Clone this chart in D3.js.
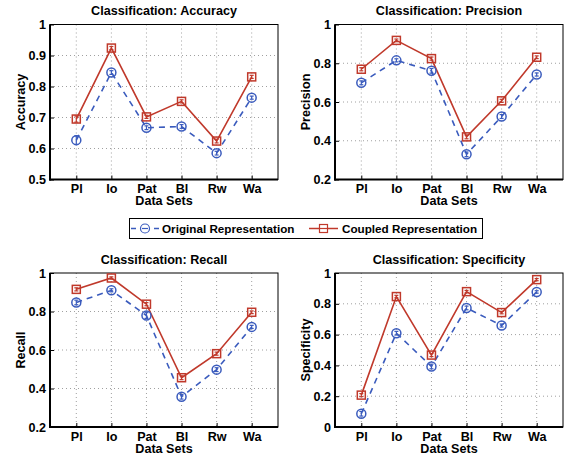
<!DOCTYPE html>
<html>
<head>
<meta charset="utf-8">
<script src="https://cdn.jsdelivr.net/npm/d3@7"></script>
<style>
html,body{margin:0;padding:0;background:#fff;}
svg text{font-family:"Liberation Sans",Arial,Helvetica,sans-serif;font-weight:bold;fill:#000;}
</style>
</head>
<body>
<svg id="chart" width="567" height="455"></svg>
<script>
// ---- data ----
const categories = ["Pl", "Io", "Pat", "Bl", "Rw", "Wa"];
const seriesNames = ["Original Representation", "Coupled Representation"];

const accuracyOriginal = [0.627, 0.845, 0.667, 0.671, 0.585, 0.764];
const accuracyCoupled  = [0.695, 0.924, 0.702, 0.752, 0.624, 0.831];
const accuracyErrOriginal = [0.014, 0.006, 0.006, 0.006, 0.006, 0.005];
const accuracyErrCoupled  = [0.010, 0.005, 0.005, 0.005, 0.006, 0.005];

const precisionOriginal = [0.699, 0.815, 0.761, 0.330, 0.525, 0.742];
const precisionCoupled  = [0.769, 0.918, 0.824, 0.420, 0.606, 0.831];
const precisionErrOriginal = [0.010, 0.008, 0.012, 0.012, 0.010, 0.008];
const precisionErrCoupled  = [0.008, 0.007, 0.008, 0.010, 0.008, 0.007];

const recallOriginal = [0.847, 0.910, 0.779, 0.357, 0.498, 0.720];
const recallCoupled  = [0.915, 0.974, 0.838, 0.456, 0.581, 0.796];
const recallErrOriginal = [0.012, 0.008, 0.015, 0.012, 0.010, 0.008];
const recallErrCoupled  = [0.008, 0.006, 0.008, 0.010, 0.008, 0.007];

const specificityOriginal = [0.086, 0.609, 0.393, 0.773, 0.659, 0.877];
const specificityCoupled  = [0.207, 0.847, 0.467, 0.879, 0.743, 0.957];
const specificityErrOriginal = [0.015, 0.012, 0.015, 0.012, 0.010, 0.008];
const specificityErrCoupled  = [0.010, 0.008, 0.010, 0.008, 0.008, 0.007];

const accuracyTicks = [0.5, 0.6, 0.7, 0.8, 0.9, 1];
const accuracyTickLabels = ["0.5", "0.6", "0.7", "0.8", "0.9", "1"];
const prTicks = [0.2, 0.4, 0.6, 0.8, 1];
const prTickLabels = ["0.2", "0.4", "0.6", "0.8", "1"];
const specTicks = [0, 0.2, 0.4, 0.6, 0.8, 1];
const specTickLabels = ["0", "0.2", "0.4", "0.6", "0.8", "1"];

const titles = ["Classification: Accuracy", "Classification: Precision", "Classification: Recall", "Classification: Specificity"];
const yLabels = ["Accuracy", "Precision", "Recall", "Specificity"];
const xLabel = "Data Sets";

// ---- layout ----
const BLUE = "#3a5bbd";
const RED = "#c0392b";
const FS = 12.6;
const svg = d3.select("#chart");

const panels = [
  {title: titles[0], ylab: yLabels[0], orig: accuracyOriginal, coup: accuracyCoupled, eo: accuracyErrOriginal, ec: accuracyErrCoupled, domain: [0.5, 1], ticks: accuracyTicks, labels: accuracyTickLabels, x0: 50, x1: 278, y0: 24.5, y1: 179.5},
  {title: titles[1], ylab: yLabels[1], orig: precisionOriginal, coup: precisionCoupled, eo: precisionErrOriginal, ec: precisionErrCoupled, domain: [0.2, 1], ticks: prTicks, labels: prTickLabels, x0: 335, x1: 563, y0: 24.5, y1: 179.5},
  {title: titles[2], ylab: yLabels[2], orig: recallOriginal, coup: recallCoupled, eo: recallErrOriginal, ec: recallErrCoupled, domain: [0.2, 1], ticks: prTicks, labels: prTickLabels, x0: 50, x1: 278, y0: 273, y1: 427},
  {title: titles[3], ylab: yLabels[3], orig: specificityOriginal, coup: specificityCoupled, eo: specificityErrOriginal, ec: specificityErrCoupled, domain: [0, 1], ticks: specTicks, labels: specTickLabels, x0: 335, x1: 563, y0: 273, y1: 427}
];

panels.forEach(p => {
  const g = svg.append("g");
  const x = d3.scaleLinear().domain([0.25, categories.length + 0.75]).range([p.x0, p.x1]);
  const y = d3.scaleLinear().domain(p.domain).range([p.y1, p.y0]);
  const xi = (d, i) => x(i + 1);

  // grid
  const grid = g.append("g").attr("stroke", "#888").attr("stroke-width", 0.8).attr("stroke-dasharray", "1,3");
  p.ticks.forEach(t => {
    if (t === p.domain[0] || t === p.domain[1]) return;
    grid.append("line").attr("x1", p.x0).attr("x2", p.x1).attr("y1", y(t)).attr("y2", y(t));
  });
  categories.forEach((c, i) => {
    grid.append("line").attr("x1", x(i + 1)).attr("x2", x(i + 1)).attr("y1", p.y0).attr("y2", p.y1);
  });

  // axes via d3
  const yAxis = d3.axisLeft(y).tickValues(p.ticks).tickFormat((d, i) => p.labels[i]).tickSize(-4).tickPadding(4);
  const yg = g.append("g").attr("transform", `translate(${p.x0},0)`).call(yAxis);
  const xAxis = d3.axisBottom(x).tickValues(d3.range(1, categories.length + 1)).tickFormat(d => categories[d - 1]).tickSize(-4).tickPadding(5);
  const xg = g.append("g").attr("transform", `translate(0,${p.y1})`).call(xAxis);
  [yg, xg].forEach(a => {
    a.select(".domain").remove();
    a.selectAll(".tick line").attr("stroke", "#000").attr("stroke-width", 1);
    a.selectAll("text").attr("font-size", FS).attr("font-weight", "bold")
      .attr("font-family", "'Liberation Sans', Arial, sans-serif").attr("fill", "#000");
  });

  // frame
  g.append("rect").attr("x", p.x0).attr("y", p.y0).attr("width", p.x1 - p.x0).attr("height", p.y1 - p.y0)
    .attr("fill", "none").attr("stroke", "#000").attr("stroke-width", 1);
  g.append("line").attr("x1", p.x0).attr("x2", p.x0).attr("y1", p.y0).attr("y2", p.y1 + 1).attr("stroke", "#000").attr("stroke-width", 2);
  g.append("line").attr("x1", p.x0 - 1).attr("x2", p.x1).attr("y1", p.y1).attr("y2", p.y1).attr("stroke", "#000").attr("stroke-width", 2);

  // lines
  const line = d3.line().x(xi).y(d => y(d));
  g.append("path").datum(p.orig).attr("d", line).attr("fill", "none").attr("stroke", BLUE)
    .attr("stroke-width", 1.6).attr("stroke-dasharray", "6,5");
  g.append("path").datum(p.coup).attr("d", line).attr("fill", "none").attr("stroke", RED)
    .attr("stroke-width", 1.6);

  // error bars + markers
  function errbars(vals, errs, color) {
    const eg = g.append("g").attr("stroke", color).attr("stroke-width", 1.2);
    vals.forEach((v, i) => {
      const cx = x(i + 1), e = errs[i];
      eg.append("line").attr("x1", cx).attr("x2", cx).attr("y1", y(v - e)).attr("y2", y(v + e));
      eg.append("line").attr("x1", cx - 2).attr("x2", cx + 2).attr("y1", y(v - e)).attr("y2", y(v - e));
      eg.append("line").attr("x1", cx - 2).attr("x2", cx + 2).attr("y1", y(v + e)).attr("y2", y(v + e));
    });
  }
  errbars(p.orig, p.eo, BLUE);
  errbars(p.coup, p.ec, RED);

  g.selectAll(".mo").data(p.orig).enter().append("circle")
    .attr("cx", xi).attr("cy", d => y(d)).attr("r", 4.5)
    .attr("fill", "none").attr("stroke", BLUE).attr("stroke-width", 1.5);
  g.selectAll(".mc").data(p.coup).enter().append("rect")
    .attr("x", (d, i) => x(i + 1) - 4).attr("y", d => y(d) - 4).attr("width", 8).attr("height", 8)
    .attr("fill", "none").attr("stroke", RED).attr("stroke-width", 1.5);

  // labels
  const cx = (p.x0 + p.x1) / 2;
  g.append("text").attr("x", cx).attr("y", p.y0 - 9.5).attr("text-anchor", "middle").attr("font-size", FS).text(p.title);
  g.append("text").attr("x", cx).attr("y", p.y1 + 25.5).attr("text-anchor", "middle").attr("font-size", FS).text(xLabel);
  g.append("text").attr("transform", `translate(${p.x0 - 25},${(p.y0 + p.y1) / 2}) rotate(-90)`)
    .attr("text-anchor", "middle").attr("font-size", FS).text(p.ylab);
});

// ---- legend ----
const LFS = 11.7;
const lg = svg.append("g");
lg.append("rect").attr("x", 129.5).attr("y", 218.5).attr("width", 353).attr("height", 20)
  .attr("fill", "#fff").attr("stroke", "#000").attr("stroke-width", 1);
const ly = 228.5;
lg.append("line").attr("x1", 131).attr("x2", 159).attr("y1", ly).attr("y2", ly)
  .attr("stroke", BLUE).attr("stroke-width", 1.5).attr("stroke-dasharray", "5,18");
lg.append("circle").attr("cx", 145).attr("cy", ly).attr("r", 4.5).attr("fill", "none").attr("stroke", BLUE).attr("stroke-width", 1.2);
lg.append("line").attr("x1", 142).attr("x2", 148).attr("y1", ly).attr("y2", ly).attr("stroke", BLUE).attr("stroke-width", 1.2);
lg.append("text").attr("x", 162).attr("y", ly + 4.2).attr("font-size", LFS).text(seriesNames[0]);
lg.append("line").attr("x1", 309).attr("x2", 338).attr("y1", ly).attr("y2", ly).attr("stroke", RED).attr("stroke-width", 1.5);
lg.append("rect").attr("x", 319.5).attr("y", ly - 4).attr("width", 8).attr("height", 8).attr("fill", "#fff").attr("stroke", RED).attr("stroke-width", 1.2);
lg.append("line").attr("x1", 319.5).attr("x2", 327.5).attr("y1", ly).attr("y2", ly).attr("stroke", RED).attr("stroke-width", 1.2);
lg.append("text").attr("x", 342).attr("y", ly + 4.2).attr("font-size", LFS).text(seriesNames[1]);
</script>
</body>
</html>
